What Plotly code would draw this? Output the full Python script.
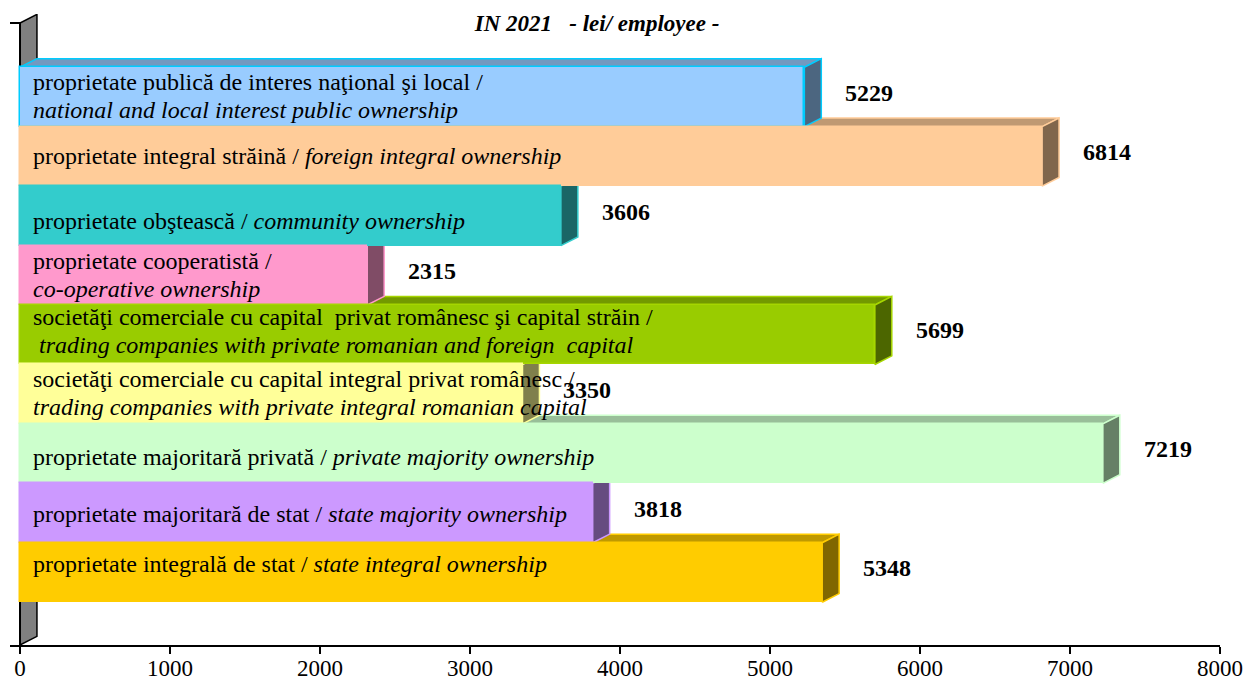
import plotly.graph_objects as go

# ---------------- data (top to bottom as displayed) ----------------
labels_ro = [
    "proprietate publică de interes naţional şi local /",
    "proprietate integral străină /",
    "proprietate obştească /",
    "proprietate cooperatistă /",
    "societăţi comerciale cu capital  privat românesc şi capital străin /",
    "societăţi comerciale cu capital integral privat românesc /",
    "proprietate majoritară privată /",
    "proprietate majoritară de stat /",
    "proprietate integrală de stat /",
]
labels_en = [
    "national and local interest public ownership",
    "foreign integral ownership",
    "community ownership",
    "co-operative ownership",
    " trading companies with private romanian and foreign  capital",
    "trading companies with private integral romanian capital",
    "private majority ownership",
    "state majority ownership",
    "state integral ownership",
]
two_lines = [True, False, False, True, True, True, False, False, False]
values = [5229, 6814, 3606, 2315, 5699, 3350, 7219, 3818, 5348]
x_ticks = [0, 1000, 2000, 3000, 4000, 5000, 6000, 7000, 8000]
title_text = "IN 2021   - lei/ employee -"

# ---------------- styles ----------------
front_colors = ["#99CCFF", "#FFCC99", "#33CCCC", "#FF99CC", "#99CC00",
                "#FFFF99", "#CCFFCC", "#CC99FF", "#FFCC00"]
edge_colors = ["#00CCFF", "#FFCC99", "#33CCCC", "#FF99CC", "#A6D600",
               "#FFFF99", "#CCFFCC", "#CC99FF", "#FFCC00"]
label_yshift = [1, 0, -5, 0, 4, 1, -3, -1, 9]   # px nudges of category text


def shade(hex_color, f):
    h = hex_color.lstrip("#")
    r, g, b = (int(h[i:i + 2], 16) for i in (0, 2, 4))
    return "rgb(%d,%d,%d)" % (round(r * f), round(g * f), round(b * f))


FONT = "Liberation Serif, Times New Roman, serif"
W = 1.0          # bar thickness (category units)
DX = 113         # 3D depth, x data units
DY = 0.145       # 3D depth, y category units
X_MIN, X_MAX = -66.67, 8000
Y_BOT, Y_TOP = -1.2197, 9.245
Y_RANGE = [Y_BOT, 9.396]

n = len(values)
pos = [n - 1 - i for i in range(n)]

fig = go.Figure()

# back wall (3D depth of the category axis)
fig.add_trace(go.Scatter(
    x=[0, DX, DX, 0, 0], y=[Y_BOT, Y_BOT + DY, Y_TOP + DY, Y_TOP, Y_BOT],
    fill="toself", fillcolor="#808080", mode="lines",
    line=dict(color="black", width=1.5), hoverinfo="skip", showlegend=False))
# y axis line and end tick
fig.add_trace(go.Scatter(
    x=[X_MIN, 0, 0], y=[Y_TOP, Y_TOP, Y_BOT], mode="lines",
    line=dict(color="black", width=2), hoverinfo="skip", showlegend=False))

# top and side faces (bottom bar first)
for i in reversed(range(n)):
    v, p = values[i], pos[i]
    yb, yt = p - W / 2, p + W / 2
    fig.add_trace(go.Scatter(
        x=[0, v, v + DX, DX, 0], y=[yt, yt, yt + DY, yt + DY, yt],
        fill="toself", fillcolor=shade(front_colors[i], 0.75), mode="lines",
        line=dict(color=edge_colors[i], width=1.5), hoverinfo="skip",
        showlegend=False))
    fig.add_trace(go.Scatter(
        x=[v, v + DX, v + DX, v, v], y=[yb, yb + DY, yt + DY, yt, yb],
        fill="toself", fillcolor=shade(front_colors[i], 0.5), mode="lines",
        line=dict(color=edge_colors[i], width=1.5), hoverinfo="skip",
        showlegend=False))

# front faces on overlaying axes (drawn above the faces)
fig.add_trace(go.Bar(
    x=values, y=pos, orientation="h", base=0, width=W,
    marker=dict(color=front_colors, line=dict(color=edge_colors, width=1.5)),
    xaxis="x2", yaxis="y2", hoverinfo="skip", showlegend=False))

CAT_SIZE = 24
annotations = []
for i in range(n):
    if two_lines[i]:
        lines = [(labels_ro[i], -14), ("<i>" + labels_en[i] + "</i>", 14)]
    else:
        lines = [(labels_ro[i] + " <i>" + labels_en[i] + "</i>", 0)]
    for txt, off in lines:
        annotations.append(dict(
            x=0, y=pos[i], xref="x", yref="y", xanchor="left",
            yanchor="middle", xshift=11, yshift=-off + label_yshift[i],
            align="left", showarrow=False, text=txt,
            font=dict(family=FONT, size=CAT_SIZE, color="black")))
    annotations.append(dict(
        x=values[i] + DX, y=pos[i] + DY / 2, xref="x", yref="y",
        xanchor="left", yanchor="middle", xshift=22, showarrow=False,
        text="<b>%d</b>" % values[i],
        font=dict(family=FONT, size=24, color="black")))

fig.update_layout(
    width=1245, height=684,
    margin=dict(l=10, r=25, t=14, b=39, autoexpand=False),
    paper_bgcolor="white", plot_bgcolor="white",
    bargap=0,
    title=dict(text="<b><i>" + title_text + "</i></b>", x=597 / 1245,
               xanchor="center", y=1 - 23 / 684, yanchor="middle",
               font=dict(family=FONT, size=23, color="black")),
    xaxis=dict(range=[X_MIN, X_MAX], tickmode="array", tickvals=x_ticks,
               ticktext=[str(t) for t in x_ticks], showgrid=False,
               zeroline=False, showline=True, linecolor="black", linewidth=2,
               ticks="outside", ticklen=7, tickwidth=2, tickcolor="black",
               ticklabelstandoff=-6,
               tickfont=dict(family=FONT, size=23, color="black"),
               automargin=False, fixedrange=True),
    yaxis=dict(range=Y_RANGE, visible=False, automargin=False,
               fixedrange=True),
    xaxis2=dict(range=[X_MIN, X_MAX], overlaying="x", visible=False,
                automargin=False, fixedrange=True),
    yaxis2=dict(range=Y_RANGE, overlaying="y", visible=False,
                automargin=False, fixedrange=True),
    annotations=annotations,
    showlegend=False,
)

fig.write_html("out.html")
